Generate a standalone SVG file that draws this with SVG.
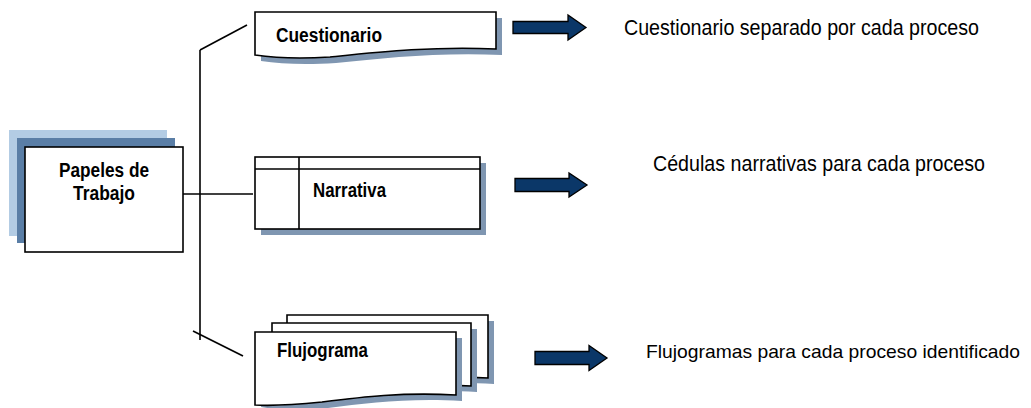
<svg xmlns="http://www.w3.org/2000/svg" width="1031" height="408" viewBox="0 0 1031 408">
<style>
.ln{stroke:#000;stroke-width:1.6;fill:none}
.box{fill:#fff;stroke:#000;stroke-width:1.6}
.sh{fill:#7f96b1}
.arr{fill:#0b3768;stroke:#000;stroke-width:1.3;stroke-linejoin:miter}
.lb{font-family:"Liberation Sans",Arial,sans-serif;font-weight:bold;font-size:20px;fill:#000}
.tx{font-family:"Liberation Sans",Arial,sans-serif;font-size:22px;fill:#000}
</style>
<rect width="1031" height="408" fill="#fff"/>
<g id="connectors">
<line class="ln" x1="200" y1="50" x2="200" y2="340"/>
<line class="ln" x1="200" y1="50" x2="247" y2="25"/>
<line class="ln" x1="173" y1="194" x2="253" y2="194"/>
<line class="ln" x1="193" y1="331" x2="243" y2="356"/>
</g>
<g id="papeles">
<rect x="9" y="130" width="158" height="106" fill="#b3cce4"/>
<rect x="17" y="138" width="158" height="105" fill="#5a7ea6"/>
<rect class="box" x="25" y="147" width="158" height="105"/>
<text class="lb" x="104" y="177" text-anchor="middle" textLength="90" lengthAdjust="spacingAndGlyphs">Papeles de</text>
<text class="lb" x="104" y="200" text-anchor="middle" textLength="62" lengthAdjust="spacingAndGlyphs">Trabajo</text>
</g>
<g id="cuestionario">
<path class="sh" d="M261,18 H502 V55 C440,52 385,58 336,63 C306,65 281,64 261,61 Z"/>
<path class="box" d="M255,12 H496 V49 C434,46 379,52 330,57 C300,59 275,58 255,55 Z"/>
<text class="lb" x="276" y="42" textLength="106" lengthAdjust="spacingAndGlyphs">Cuestionario</text>
</g>
<g id="narrativa">
<rect class="sh" x="261" y="163" width="225" height="72"/>
<rect class="box" x="255" y="157" width="225" height="72"/>
<line class="ln" x1="255" y1="169" x2="480" y2="169"/>
<line class="ln" x1="299" y1="157" x2="299" y2="229"/>
<text class="lb" x="313" y="197" textLength="73" lengthAdjust="spacingAndGlyphs">Narrativa</text>
</g>
<g id="flujograma">
<path class="sh" d="M293,321 H494 V384 C440,381 400,386 360,391 C330,394 310,393 293,390 Z"/>
<path class="box" d="M287,315 H488 V378 C434,375 394,380 354,385 C324,388 304,387 287,384 Z"/>
<path class="sh" d="M278,329 H477 V392 C423,389 383,394 343,399 C313,402 293,401 278,398 Z"/>
<path class="box" d="M272,323 H471 V386 C417,383 377,388 337,393 C307,396 287,395 272,392 Z"/>
<path class="sh" d="M261,338 H462 V401 C408,398 368,403 328,408 C298,411 278,410 261,407 Z"/>
<path class="box" d="M255,332 H456 V395 C402,392 362,397 322,402 C292,405 272,406 255,405 Z"/>
<text class="lb" x="277" y="357" textLength="91" lengthAdjust="spacingAndGlyphs">Flujograma</text>
</g>
<g id="arrows">
<path class="arr" d="M513,21.5 H568 V15 L586,27.5 L568,40 V33.5 H513 Z"/>
<path class="arr" d="M515,178.5 H569 V173 L587,185 L569,197 V191.5 H515 Z"/>
<path class="arr" d="M535,351.5 H589 V345.5 L607,358 L589,370.5 V364.5 H535 Z"/>
</g>
<g id="texts">
<text class="tx" x="624" y="35" textLength="355" lengthAdjust="spacingAndGlyphs">Cuestionario separado por cada proceso</text>
<text class="tx" x="653" y="171" textLength="332" lengthAdjust="spacingAndGlyphs">Cédulas narrativas para cada proceso</text>
<text class="tx" x="646" y="358" style="font-size:19px" textLength="374" lengthAdjust="spacingAndGlyphs">Flujogramas para cada proceso identificado</text>
</g>
</svg>
